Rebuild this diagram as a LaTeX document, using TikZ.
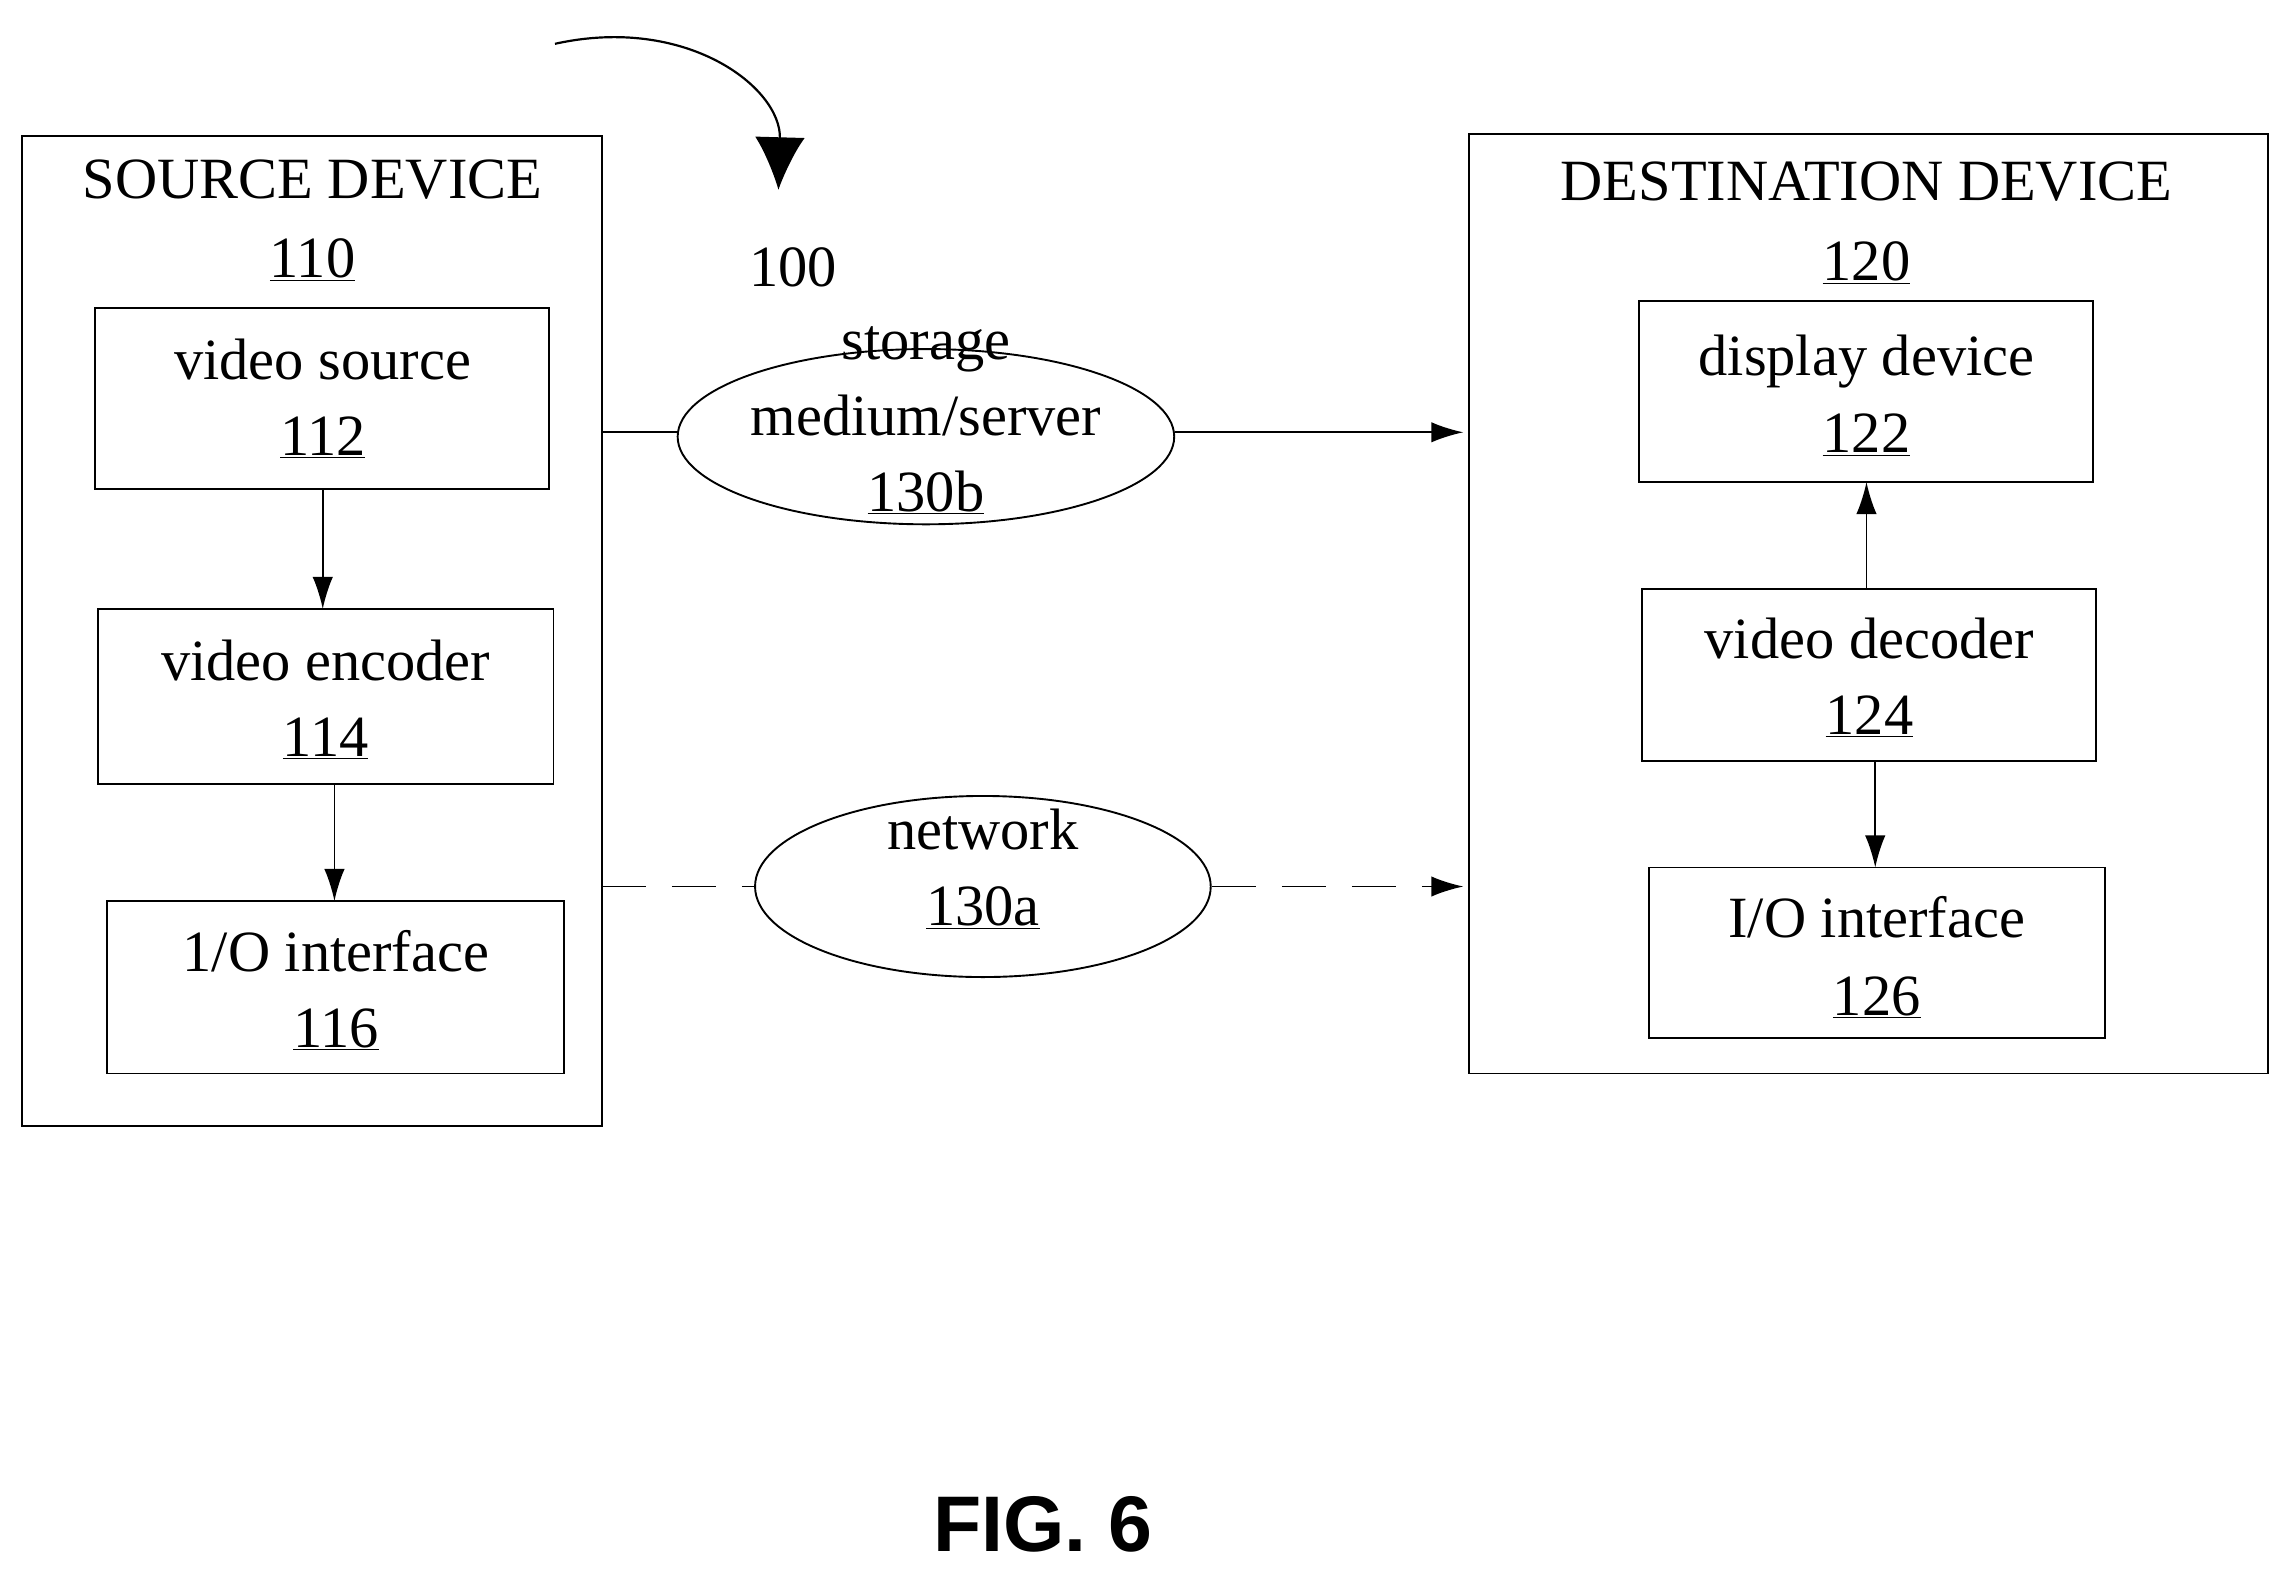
\documentclass[tikz,border=0pt]{standalone}
\usepackage{fontspec}
\setmainfont{Liberation Serif}
\newfontfamily\figfont{Liberation Sans}
\usetikzlibrary{arrows.meta,shapes.geometric}
\begin{document}
\begin{tikzpicture}[x=1pt,y=-1pt,
  every node/.style={font=\fontsize{40}{44}\selectfont},
  box/.style={draw,line width=1.3pt},
  arr/.style={line width=1.3pt,-{Latex[length=22pt,width=14pt]}},
  lbl/.style={inner sep=0pt,anchor=base}]
\useasboundingbox (0,0) rectangle (1568,1076);
% source device
\draw[box] (15,93) rectangle (412,771);
\node[lbl] (t110) at (214,136) {SOURCE DEVICE};
\node[lbl] (n110) at (214,190) {\underline{110}};
\draw[box] (65,211) rectangle (376,335);
\node[lbl] at (221,260) {video source};
\node[lbl] at (221,312) {\underline{112}};
\draw[box] (67,417) rectangle (379,537);
\node[lbl] at (223,466) {video encoder};
\node[lbl] at (223,518) {\underline{114}};
\draw[box] (73,617) rectangle (386,735);
\node[lbl] at (230,665) {1/O interface};
\node[lbl] at (230,717) {\underline{116}};
\coordinate (vsb) at (221,335); \coordinate (vet) at (221,417);
\coordinate (veb) at (229,537); \coordinate (iot) at (229,617);
\draw[arr] (vsb) -- (vet);
\draw[arr] (veb) -- (iot);
% destination
\draw[box] (1006,92) rectangle (1553,735);
\node[lbl] at (1278,137) {DESTINATION DEVICE};
\node[lbl] at (1278,192) {\underline{120}};
\draw[box] (1122,206) rectangle (1433,330);
\node[lbl] at (1278,257) {display device};
\node[lbl] at (1278,310) {\underline{122}};
\draw[box] (1124,403) rectangle (1435,521);
\node[lbl] at (1280,451) {video decoder};
\node[lbl] at (1280,503) {\underline{124}};
\draw[box] (1129,594) rectangle (1441,711);
\node[lbl] at (1285,642) {I/O interface};
\node[lbl] at (1285,695) {\underline{126}};
\coordinate (ddb) at (1278,330); \coordinate (vdt) at (1278,403);
\coordinate (vdb) at (1284,521); \coordinate (i2t) at (1284,594);
\draw[arr] (vdt) -- (ddb);
\draw[arr] (vdb) -- (i2t);
% storage
\node[draw,ellipse,line width=1.3pt,minimum width=340pt,minimum height=120pt,inner sep=0pt] (st) at (634,299) {};
\node[lbl] at (634,246) {storage};
\node[lbl] at (634,298) {medium/server};
\node[lbl] at (634,350) {\underline{130b}};
\coordinate (s1) at (412,296); \coordinate (s2) at (1002,296);
\draw[line width=1.3pt] (s1) -- (st.west |- s1);
\draw[arr] (st.east |- s2) -- (s2);
% network
\node[draw,ellipse,line width=1.3pt,minimum width=312pt,minimum height=124pt,inner sep=0pt] (nw) at (673,607) {};
\node[lbl] at (673,582) {network};
\node[lbl] at (673,634) {\underline{130a}};
\coordinate (n1) at (412,607); \coordinate (n2) at (1002,607);
\draw[line width=1.3pt,dash pattern=on 30pt off 18pt] (n1) -- (nw.west);
\draw[arr,dash pattern=on 30pt off 18pt] (nw.east) -- (n2);
% 100
\coordinate (c1) at (380,30); \coordinate (c2) at (533,130);
\draw[line width=1.5pt,-{Latex[length=36pt,width=34pt]}] (c1) .. controls (470,10) and (535,60) .. (c2);
\node[lbl] at (543,196) {100};
\node[lbl,font=\figfont\bfseries\fontsize{54}{60}\selectfont] at (714,1062) {FIG. 6};
\end{tikzpicture}
\end{document}
